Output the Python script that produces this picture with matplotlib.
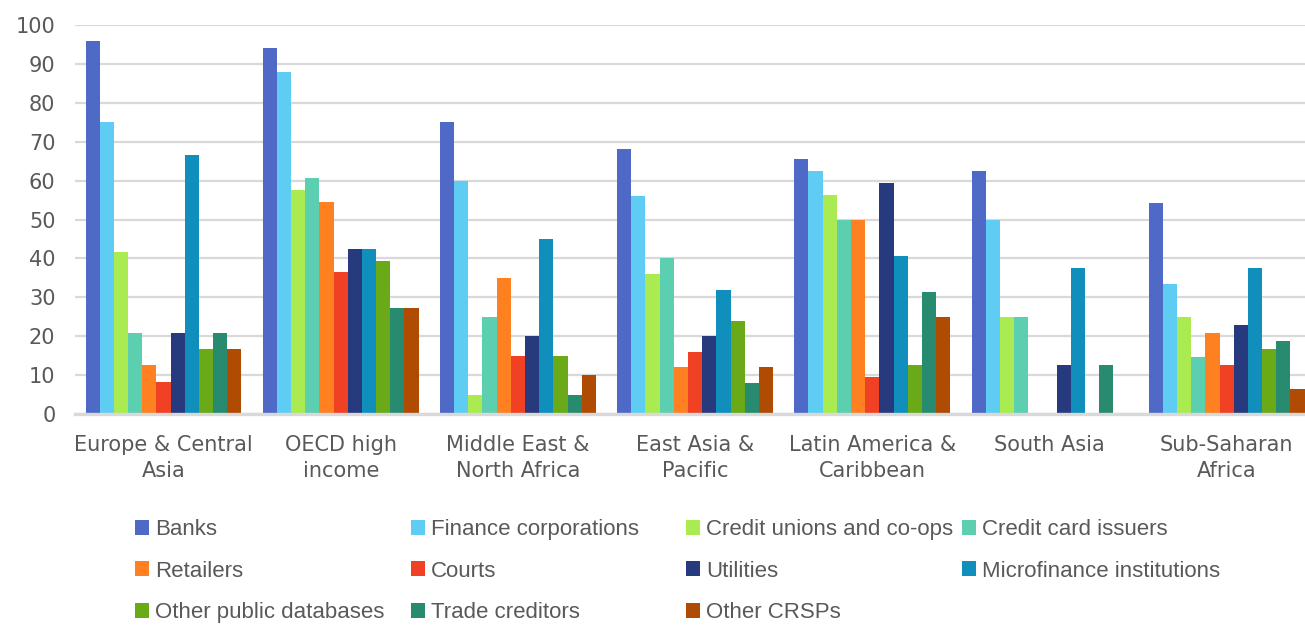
import numpy as np
import matplotlib
matplotlib.use('Agg')
from matplotlib import pyplot as plt

regions = ['Europe & Central\nAsia', 'OECD high\nincome', 'Middle East &\nNorth Africa',
           'East Asia &\nPacific', 'Latin America &\nCaribbean', 'South Asia', 'Sub-Saharan\nAfrica']

# one list per type of data provider, values per region (%)
banks = [95.8, 94.0, 75.0, 68.0, 65.6, 62.5, 54.2]
finance_corps = [75.0, 88.0, 60.0, 56.0, 62.5, 50.0, 33.3]
credit_unions = [41.7, 57.6, 5.0, 36.0, 56.3, 25.0, 25.0]
card_issuers = [20.8, 60.6, 25.0, 40.0, 50.0, 25.0, 14.6]
retailers = [12.5, 54.5, 35.0, 12.0, 50.0, 0, 20.8]
courts = [8.3, 36.4, 15.0, 16.0, 9.4, 0, 12.5]
utilities = [20.8, 42.4, 20.0, 20.0, 59.4, 12.5, 22.9]
microfinance = [66.7, 42.4, 45.0, 32.0, 40.6, 37.5, 37.5]
other_public = [16.7, 39.4, 15.0, 24.0, 12.5, 0, 16.7]
trade_creditors = [20.8, 27.3, 5.0, 8.0, 31.3, 12.5, 18.8]
other_crsps = [16.7, 27.3, 10.0, 12.0, 25.0, 0, 6.3]

series = [
    ('Banks', banks, '#4F69C6'),
    ('Finance corporations', finance_corps, '#5FCDF3'),
    ('Credit unions and co-ops', credit_unions, '#A9EB50'),
    ('Credit card issuers', card_issuers, '#5DCFB1'),
    ('Retailers', retailers, '#FF8021'),
    ('Courts', courts, '#F14124'),
    ('Utilities', utilities, '#273A7E'),
    ('Microfinance institutions', microfinance, '#118FBC'),
    ('Other public databases', other_public, '#6AA918'),
    ('Trade creditors', trade_creditors, '#288A6E'),
    ('Other CRSPs', other_crsps, '#AF4B02'),
]

grey = '#595959'
fig = plt.figure(figsize=(13.05, 6.26), dpi=100)
ax = fig.add_axes([74.9 / 1305, 212 / 626, 1 - 74.9 / 1305, 389 / 626])

x = np.arange(len(regions))
w = 0.08
bars = []
for i, (name, vals, col) in enumerate(series):
    b = ax.bar(x + (i - 5) * w, vals, w, color=col, label=name, zorder=3, linewidth=0)
    bars.append(b)

ax.set_ylim(0, 100)
ax.set_xlim(-0.5, 6.442)
ax.set_yticks(range(0, 101, 10))
ax.yaxis.grid(True, color='#d9d9d9', linewidth=1.6, zorder=0)
for s in ['left', 'right', 'top']:
    ax.spines[s].set_visible(False)
ax.spines['bottom'].set_color('#d9d9d9')
ax.spines['bottom'].set_linewidth(2.4)
ax.spines['bottom'].set_zorder(4)
ax.tick_params(axis='both', length=0, labelsize=15, labelcolor=grey)
ax.tick_params(axis='y', pad=14)
ax.tick_params(axis='x', pad=15)
ax.set_xticks(x)
ax.set_xticklabels(regions, linespacing=1.4)

# legend: 4 columns laid out as separate legends
col_x = [135, 411, 686, 962]
for c in range(4):
    idx = [c, c + 4, c + 8]
    idx = [k for k in idx if k < len(series)]
    leg = fig.legend([bars[k] for k in idx], [series[k][0] for k in idx],
                     loc='upper left', bbox_to_anchor=(col_x[c] / 1305, 1 - 519 / 626),
                     frameon=False, handlelength=0.65, handleheight=0.65, handletextpad=0.25,
                     labelspacing=0.93, borderaxespad=0, borderpad=0,
                     prop={'family': ['Liberation Sans', 'DejaVu Sans'], 'size': 16})
    for t in leg.get_texts():
        t.set_color(grey)

plt.savefig('out.png', dpi=100)
